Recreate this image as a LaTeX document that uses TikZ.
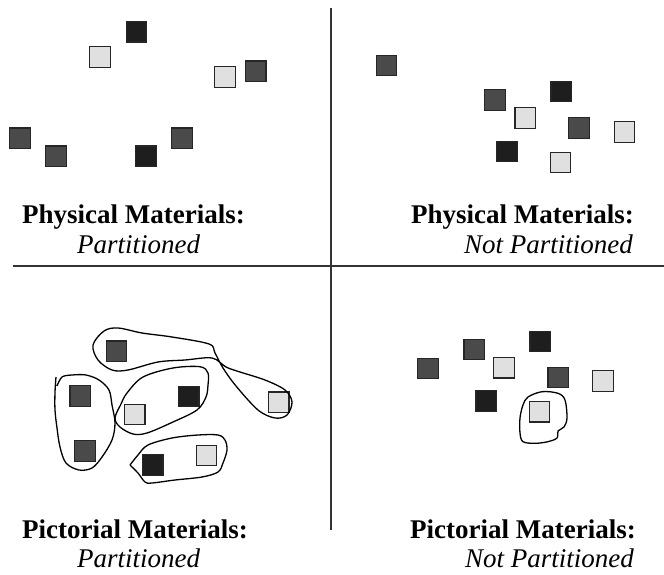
\documentclass[tikz,border=0pt]{standalone}
\usepackage{fontspec}
\setmainfont{Liberation Serif}
\definecolor{sqdark}{HTML}{4A4A4A}
\definecolor{sqblack}{HTML}{1E1E1E}
\definecolor{sqlight}{HTML}{E0E0E0}
\begin{document}
\begin{tikzpicture}[x=1pt,y=-1pt,
  sq/.style={draw=black!85, line width=1.1pt, minimum size=20.5pt, inner sep=0pt},
  dk/.style={sq, fill=sqdark},
  bk/.style={sq, fill=sqblack},
  lt/.style={sq, fill=sqlight},
  sepline/.style={line width=1.3pt, draw=black!80},
  loopline/.style={line width=1.3pt, draw=black, line join=round},
  head/.style={font=\fontsize{27}{30}\selectfont\bfseries, inner sep=0pt},
  sub/.style={font=\fontsize{27}{30}\selectfont\itshape, inner sep=0pt}]
\useasboundingbox (0,0) rectangle (664,575);
% separators
\coordinate (vtop) at (331,8);
\coordinate (vbot) at (331,530);
\coordinate (hl) at (13,266);
\coordinate (hr) at (664,266);
\draw[sepline] (vtop) -- (vbot);
\draw[sepline] (hl) -- (hr);
% top-left
\node[bk] (a1) at (136.5,31.8) {};
\node[lt] (a2) at (100,57.2) {};
\node[lt] (a3) at (225,77) {};
\node[dk] (a4) at (255.7,71.3) {};
\node[dk] (a5) at (20,138.3) {};
\node[dk] (a6) at (55.8,156.3) {};
\node[bk] (a7) at (146,156.3) {};
\node[dk] (a8) at (182,138.3) {};
% top-right
\node[dk] (b1) at (386.3,65.5) {};
\node[dk] (b2) at (494.8,100) {};
\node[bk] (b3) at (561.2,91.5) {};
\node[lt] (b4) at (525.2,118.2) {};
\node[dk] (b5) at (579,128) {};
\node[lt] (b6) at (624.5,132) {};
\node[bk] (b7) at (507,151.7) {};
\node[lt] (b8) at (560.5,162.5) {};
% bottom-left
\node[dk] (c1) at (116.5,351.2) {};
\node[dk] (c2) at (80.2,396) {};
\node[bk] (c3) at (188.7,396.3) {};
\node[lt] (c4) at (134.7,414.5) {};
\node[lt] (c5) at (278.7,402.2) {};
\node[dk] (c6) at (84.8,450.8) {};
\node[bk] (c7) at (152.7,464.8) {};
\node[lt] (c8) at (206.5,455.5) {};
% bottom-right
\node[dk] (d1) at (427.8,368.3) {};
\node[dk] (d2) at (474.2,349.5) {};
\node[lt] (d3) at (504,367.7) {};
\node[bk] (d4) at (540.2,341.3) {};
\node[dk] (d5) at (558.2,377.3) {};
\node[lt] (d6) at (602.8,381) {};
\node[bk] (d7) at (486.2,400.8) {};
\node[lt] (d8) at (539.5,411.7) {};
% loops (bottom-left)
\draw[loopline] plot[smooth cycle, tension=0.55] coordinates {
  (93,345) (104,331) (118,328) (142,333) (172,337) (209,344) (215,353)
  (223,368) (236,386) (258,410) (275,418) (287,415) (292,402) (285,390)
  (265,380) (240,372) (226,367) (212,358) (185,360) (158,362) (128,370)
  (112,370) (98,360)};
\draw[loopline] plot[smooth, tension=0.55] coordinates {
  (56,377) (55,392) (55,410) (57,428) (60,447) (66,463) (79,470) (92,468)
  (102,457) (112,440) (115,423) (112,405) (109,390) (99,380) (86,375)
  (72,375) (62,377) (57,386)};
\draw[loopline] plot[smooth cycle, tension=0.55] coordinates {
  (115,418) (121,404) (127,393) (143,377) (173,368) (200,366.7) (208,373)
  (208,385) (206,397) (197,410) (173,422) (147,433) (133,434) (120,427)};
\draw[loopline] plot[smooth, tension=0.55] coordinates {
  (130,465) (138,455) (148,445) (172,438) (198,435) (218,435) (225,440)
  (227,450) (223,463) (218,472) (202,477) (175,480) (152,483) (145,482)
  (138,473) (130,465)};
% loop (bottom-right)
\draw[loopline] plot[smooth cycle, tension=0.55] coordinates {
  (528,397) (542,391.7) (558,393.3) (565,400) (567,418) (564,427) (558,431)
  (557,438) (548,441.7) (535,443.3) (523,441.7) (520,433) (520,418) (523,405)};
% labels
\node[head, anchor=base west] (t1) at (22,223) {Physical Materials:};
\node[sub, anchor=base west] (t1b) at (77,253) {Partitioned};
\node[head, anchor=base east] (t2) at (634,223) {Physical Materials:};
\node[sub, anchor=base east] (t2b) at (633,253) {Not Partitioned};
\node[head, anchor=base west] (t3) at (22,538) {Pictorial Materials:};
\node[sub, anchor=base west] (t3b) at (77,567) {Partitioned};
\node[head, anchor=base east] (t4) at (636,538) {Pictorial Materials:};
\node[sub, anchor=base east] (t4b) at (634,567) {Not Partitioned};
\end{tikzpicture}
\end{document}
